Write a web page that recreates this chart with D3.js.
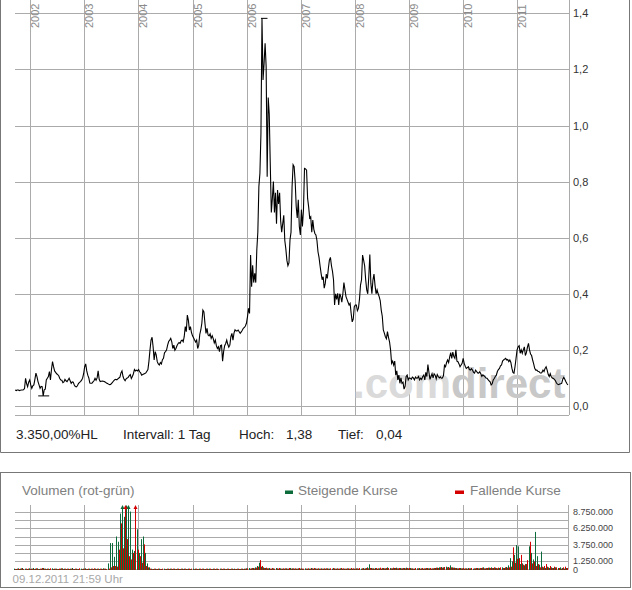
<!DOCTYPE html>
<html><head><meta charset="utf-8">
<script src="https://cdn.jsdelivr.net/npm/d3@7"></script>
<style>
html,body{margin:0;padding:0;background:#fff;}
svg{display:block;font-family:"Liberation Sans",Arial,sans-serif;}
</style></head><body>
<svg id="c" width="632" height="590"></svg>
<script>
// ---------- DATA ----------
const startDate = "2001-09-21";   // first weekly close (Friday)
// weekly closes, one array per calendar year
const close2001 = [0.057,0.055,0.057,0.057,0.055,0.056,0.057,0.057,0.058,0.062,0.099,0.080,0.069,0.085,0.093];
const close2002 = [0.075,0.063,0.072,0.075,0.095,0.117,0.105,0.087,0.075,0.063,0.070,0.069,0.036,0.058,0.060,
 0.093,0.099,0.105,0.123,0.093,0.130,0.158,0.140,0.125,0.120,0.115,0.112,0.108,0.098,0.093,0.092,0.083,0.086,
 0.095,0.090,0.087,0.093,0.099,0.090,0.081,0.086,0.085,0.075,0.069,0.068,0.072,0.080,0.084,0.087,0.092,0.099,0.115];
const close2003 = [0.140,0.150,0.125,0.110,0.100,0.082,0.081,0.081,0.086,0.090,0.099,0.092,0.100,0.125,0.095,
 0.087,0.088,0.089,0.088,0.087,0.085,0.082,0.080,0.078,0.076,0.077,0.081,0.085,0.090,0.094,0.095,0.093,0.097,
 0.100,0.103,0.118,0.125,0.105,0.095,0.090,0.097,0.100,0.102,0.108,0.112,0.098,0.105,0.115,0.130,0.125,0.128,0.125];
const close2004 = [0.130,0.122,0.118,0.110,0.112,0.114,0.116,0.118,0.124,0.130,0.160,0.200,0.235,0.245,0.211,
 0.164,0.194,0.182,0.158,0.150,0.146,0.155,0.150,0.165,0.170,0.190,0.194,0.200,0.217,0.230,0.235,0.241,0.229,
 0.205,0.217,0.199,0.205,0.215,0.222,0.226,0.223,0.232,0.235,0.229,0.247,0.283,0.265,0.324,0.306,0.271,0.283,0.262,0.250];
const close2005 = [0.243,0.235,0.228,0.235,0.205,0.217,0.255,0.271,0.295,0.342,0.335,0.295,0.259,0.277,0.253,
 0.250,0.257,0.241,0.250,0.240,0.225,0.235,0.215,0.205,0.211,0.194,0.215,0.217,0.160,0.194,0.215,0.223,0.235,
 0.220,0.210,0.217,0.247,0.259,0.235,0.260,0.272,0.268,0.268,0.271,0.265,0.259,0.264,0.270,0.277,0.280,0.285,0.295];
const close2006 = [0.318,0.348,0.330,0.538,0.425,0.502,0.440,0.473,0.440,0.556,0.620,0.782,0.830,0.972,1.382,
 1.162,1.220,1.293,1.210,0.817,1.100,1.040,0.860,0.690,0.740,0.800,0.690,0.760,0.650,0.770,0.720,0.760,0.660,
 0.620,0.650,0.680,0.590,0.560,0.520,0.500,0.510,0.592,0.620,0.780,0.860,0.853,0.800,0.711,0.670,0.735,0.640,0.610];
const close2007 = [0.700,0.640,0.700,0.847,0.845,0.841,0.740,0.710,0.670,0.675,0.620,0.663,0.630,0.615,0.610,
 0.590,0.550,0.530,0.500,0.473,0.450,0.461,0.420,0.437,0.470,0.455,0.490,0.520,0.530,0.500,0.480,0.449,0.360,
 0.400,0.380,0.402,0.360,0.400,0.390,0.370,0.400,0.440,0.415,0.390,0.380,0.370,0.360,0.366,0.330,0.300,0.310,0.354];
const close2008 = [0.360,0.360,0.340,0.348,0.380,0.431,0.450,0.538,0.520,0.500,0.450,0.414,0.400,0.461,0.540,
 0.437,0.400,0.449,0.470,0.431,0.400,0.414,0.400,0.390,0.376,0.342,0.320,0.271,0.260,0.247,0.240,0.265,0.245,
 0.229,0.200,0.152,0.160,0.146,0.160,0.110,0.125,0.093,0.110,0.081,0.100,0.081,0.085,0.060,0.070,0.105,0.110,0.093];
const close2009 = [0.100,0.099,0.095,0.103,0.100,0.093,0.103,0.099,0.100,0.105,0.093,0.099,0.095,0.105,0.110,
 0.093,0.120,0.105,0.148,0.120,0.095,0.105,0.115,0.100,0.115,0.110,0.097,0.112,0.105,0.100,0.104,0.099,0.100,
 0.108,0.145,0.140,0.155,0.164,0.155,0.175,0.190,0.170,0.192,0.176,0.170,0.200,0.160,0.158,0.150,0.140,0.146,0.152];
const close2010 = [0.170,0.152,0.142,0.134,0.137,0.140,0.130,0.128,0.133,0.128,0.120,0.117,0.128,0.123,0.118,
 0.117,0.122,0.115,0.106,0.111,0.108,0.105,0.100,0.099,0.094,0.090,0.086,0.075,0.079,0.093,0.098,0.105,0.110,
 0.123,0.130,0.134,0.143,0.146,0.160,0.164,0.167,0.170,0.164,0.166,0.158,0.164,0.155,0.135,0.120,0.117,0.140,0.170,0.200];
const close2011 = [0.211,0.215,0.188,0.200,0.188,0.200,0.211,0.180,0.190,0.210,0.223,0.200,0.185,0.180,0.164,
 0.150,0.134,0.128,0.128,0.124,0.123,0.119,0.117,0.120,0.128,0.123,0.134,0.140,0.128,0.113,0.105,0.115,0.104,
 0.100,0.098,0.095,0.090,0.082,0.078,0.076,0.078,0.079,0.081,0.095,0.102,0.095,0.087,0.080,0.075];

// bi-weekly volume in millions: rising-day and falling-day volume per period
const volumeStepDays = 14;
const volumeUp = [
0.10,0.05,0.15,0.10,0.20,0.10,0.05,0.15,0.10,0.20,
0.10,0.15,0.05,0.10,0.20,0.10,0.10,0.05,0.15,0.10,
0.10,0.05,0.10,0.15,0.10,0.05,0.10,0.10,0.20,0.05,
0.10,0.05,0.10,0.10,0.15,0.05,0.10,0.10,0.05,0.10,
0.10,0.05,0.10,0.15,0.10,0.90,4.00,4.00,1.90,5.00,
4.20,8.50,12.0,8.00,12.0,12.0,8.80,3.00,2.80,6.10,
2.50,4.60,5.00,2.50,0.90,0.30,0.10,0.05,0.10,0.05,
0.10,0.05,0.10,0.05,0.10,0.10,0.05,0.10,0.05,0.10,
0.05,0.10,0.10,0.05,0.10,0.05,0.10,0.10,0.05,0.10,
0.05,0.10,0.05,0.10,0.10,0.05,0.10,0.05,0.10,0.10,
0.05,0.10,0.05,0.10,0.05,0.10,0.10,0.05,0.10,0.05,
0.10,0.10,0.15,0.20,0.15,0.20,0.30,0.50,1.00,0.40,
0.30,0.20,0.15,0.20,0.10,0.15,0.20,0.10,0.15,0.10,
0.10,0.15,0.10,0.20,0.15,0.10,0.10,0.15,0.10,0.10,
0.15,0.10,0.10,0.20,0.10,0.15,0.10,0.10,0.15,0.10,
0.10,0.15,0.10,0.10,0.15,0.10,0.10,0.15,0.10,0.10,
0.10,0.15,0.10,0.10,0.10,0.15,0.10,0.10,0.20,0.15,
0.30,0.76,0.20,0.15,0.20,0.10,0.15,0.10,0.20,0.15,
0.30,0.20,0.15,0.20,0.25,0.15,0.20,0.15,0.20,0.25,
0.15,0.20,0.15,0.10,0.15,0.20,0.15,0.10,0.15,0.20,
0.15,0.10,0.15,0.20,0.25,0.30,0.35,0.30,0.40,0.35,
0.60,0.30,0.25,0.20,0.15,0.20,0.15,0.10,0.15,0.20,
0.15,0.10,0.15,0.20,0.15,0.20,0.30,0.15,0.20,0.25,
0.30,0.20,0.25,0.15,0.20,0.30,0.20,0.35,0.60,1.70,
1.20,2.20,3.70,3.50,0.80,0.90,0.60,0.80,3.50,2.50,
1.50,5.70,2.00,0.70,2.70,0.30,0.20,0.40,0.20,0.30,
0.20,0.30,0.20,0.30,0.20,0.10,0.20
];
const volumeDown = [
0.05,0.10,0.05,0.15,0.05,0.10,0.10,0.05,0.10,0.05,
0.15,0.05,0.10,0.20,0.10,0.05,0.10,0.15,0.05,0.10,
0.05,0.10,0.15,0.05,0.10,0.10,0.05,0.10,0.05,0.10,
0.05,0.15,0.05,0.10,0.05,0.10,0.05,0.10,0.15,0.05,
0.10,0.10,0.05,0.10,0.05,0.10,0.30,0.50,0.50,0.40,
3.00,7.00,3.20,12.0,4.60,2.00,1.50,2.50,12.0,3.00,
2.00,1.00,3.80,0.50,0.30,0.10,0.05,0.10,0.05,0.10,
0.05,0.10,0.05,0.10,0.05,0.10,0.10,0.05,0.10,0.05,
0.10,0.05,0.10,0.05,0.10,0.10,0.05,0.10,0.05,0.10,
0.10,0.05,0.10,0.05,0.10,0.05,0.10,0.10,0.05,0.10,
0.10,0.05,0.10,0.05,0.10,0.05,0.05,0.10,0.05,0.10,
0.05,0.10,0.15,0.10,0.20,0.15,0.25,0.40,1.40,0.50,
0.20,0.25,0.15,0.10,0.20,0.10,0.15,0.20,0.10,0.15,
0.15,0.10,0.20,0.10,0.15,0.15,0.10,0.20,0.15,0.10,
0.10,0.15,0.10,0.15,0.20,0.10,0.15,0.10,0.10,0.15,
0.15,0.10,0.15,0.20,0.10,0.15,0.10,0.20,0.15,0.10,
0.15,0.10,0.20,0.15,0.10,0.15,0.20,0.15,0.10,0.20,
0.15,0.20,0.15,0.10,0.20,0.15,0.25,0.20,0.15,0.20,
0.20,0.15,0.25,0.20,0.15,0.20,0.15,0.20,0.15,0.20,
0.20,0.15,0.10,0.20,0.15,0.10,0.20,0.15,0.20,0.15,
0.20,0.15,0.20,0.25,0.20,0.30,0.25,0.35,0.30,0.25,
0.30,0.25,0.20,0.15,0.20,0.15,0.20,0.15,0.10,0.15,
0.20,0.15,0.20,0.15,0.20,0.25,0.15,0.20,0.25,0.20,
0.20,0.30,0.20,0.25,0.30,0.20,0.30,0.25,0.30,0.40,
3.35,1.00,1.60,1.70,2.20,0.70,0.80,1.40,4.20,0.90,
1.20,0.50,0.80,0.30,0.40,0.50,0.80,0.30,0.50,0.20,
0.40,0.30,0.20,0.10,0.30,0.40,0.20
];
const yearTicks = [2002,2003,2004,2005,2006,2007,2008,2009,2010,2011];
const priceTicks = [0,0.2,0.4,0.6,0.8,1.0,1.2,1.4];
const volumeGrid = [1250000,2500000,3750000,5000000,6250000,7500000,8750000];
const volumeLabels = [0,1250000,3750000,6250000,8750000];
const infoTexts = ["3.350,00%HL","Intervall: 1 Tag","Hoch:","Tief:"];
const legendTexts = ["Volumen (rot-grün)","Steigende Kurse","Fallende Kurse"];
const timestamp = "09.12.2011 21:59 Uhr";

// ---------- SETUP ----------
const de = d3.formatLocale({decimal:",",thousands:".",grouping:[3],currency:["","€"]});
const fPrice = de.format(".1f"), fHL = de.format(".2f"), fVol = de.format(",.0f");
const svg = d3.select("#c");
const GRID = "#ababab", FRAME = "#777", GREEN = "#0b6b3a", RED = "#d40000";

const t0 = d3.timeParse("%Y-%m-%d")(startDate);
const closes = [].concat(close2001,close2002,close2003,close2004,close2005,close2006,
                         close2007,close2008,close2009,close2010,close2011);
const data = closes.map((v,i)=>({date:d3.timeWeek.offset(t0,i), value:v}));
const vdata = volumeUp.map((v,i)=>({date:d3.timeDay.offset(t0,i*volumeStepDays), up:v*1e6, down:volumeDown[i]*1e6}));

const x = d3.scaleTime().domain([new Date(2002,0,1), new Date(2012,0,1)]).range([30.3,571.3]);
const y = d3.scaleLinear().domain([0,1.4]).range([406,13.3]);
const yv = d3.scaleLinear().domain([0,8750000]).range([569.3,511.9]);
const L = 15, R = 569, PB = 415;
const VL = 15, VR = 568.5, VT = 505, VB = 569.3;

// ---------- MAIN PANEL ----------
svg.append("path").attr("d",`M0.5,0 V452.5 H629.5 V0`).attr("fill","none").attr("stroke",FRAME);

const g = svg.append("g");
g.selectAll(".hg").data(priceTicks).join("line")
  .attr("x1",L).attr("x2",R).attr("y1",d=>Math.round(y(d))+0.5).attr("y2",d=>Math.round(y(d))+0.5)
  .attr("stroke",GRID);
g.append("line").attr("x1",L).attr("x2",R).attr("y1",PB+0.5).attr("y2",PB+0.5).attr("stroke",GRID);
g.selectAll(".vg").data(yearTicks).join("line")
  .attr("x1",d=>Math.round(x(new Date(d,0,1)))+0.5).attr("x2",d=>Math.round(x(new Date(d,0,1)))+0.5)
  .attr("y1",0).attr("y2",PB).attr("stroke",GRID);
g.append("line").attr("x1",R+0.5).attr("x2",R+0.5).attr("y1",0).attr("y2",PB).attr("stroke",GRID);

g.selectAll(".yl").data(yearTicks).join("text")
  .attr("transform",d=>`translate(${Math.round(x(new Date(d,0,1)))+8.7},28) rotate(-90)`)
  .attr("font-size",11).attr("fill","#8a8a8a").text(d=>d);

g.selectAll(".pl").data(priceTicks).join("text")
  .attr("x",573).attr("y",d=>y(d)+4).attr("font-size",11).attr("fill","#333").text(d=>fPrice(d));

svg.append("clipPath").attr("id","pc").append("rect").attr("x",L).attr("y",0).attr("width",R-L).attr("height",PB);
const wm = svg.append("text").attr("x",353).attr("y",398).attr("font-size",42).attr("font-weight","bold")
  .attr("clip-path","url(#pc)");
wm.append("tspan").attr("fill","#dadada").text(".com");
wm.append("tspan").attr("fill","#c8c8c8").text("direct");

const line = d3.line().x(d=>x(d.date)).y(d=>y(d.value));
svg.append("path").datum(data).attr("d",line).attr("fill","none").attr("stroke","#000").attr("stroke-width",1.1)
  .attr("clip-path","url(#pc)");

const hi = data.reduce((a,b)=>b.value>a.value?b:a), lo = data.reduce((a,b)=>b.value<a.value?b:a);
svg.append("line").attr("x1",x(hi.date)-1).attr("x2",x(hi.date)+5.5).attr("y1",y(hi.value)).attr("y2",y(hi.value)).attr("stroke","#000");
svg.append("line").attr("x1",x(lo.date)-5).attr("x2",x(lo.date)+6).attr("y1",y(lo.value)).attr("y2",y(lo.value)).attr("stroke","#000");

const info = svg.append("g").attr("font-size",13.5).attr("fill","#222");
info.append("text").attr("x",16).attr("y",439).text(infoTexts[0]);
info.append("text").attr("x",123).attr("y",439).text(infoTexts[1]);
info.append("text").attr("x",239).attr("y",439).text(infoTexts[2]);
info.append("text").attr("x",286).attr("y",439).text(fHL(hi.value));
info.append("text").attr("x",338).attr("y",439).text(infoTexts[3]);
info.append("text").attr("x",376).attr("y",439).text(fHL(lo.value));

// ---------- VOLUME PANEL ----------
svg.append("rect").attr("x",0.5).attr("y",472.5).attr("width",630).attr("height",115)
  .attr("fill","none").attr("stroke",FRAME);
const vg = svg.append("g");
vg.selectAll(".vh").data(volumeGrid).join("line")
  .attr("x1",VL).attr("x2",VR).attr("y1",d=>Math.round(yv(d))+0.5).attr("y2",d=>Math.round(yv(d))+0.5).attr("stroke",GRID);
vg.append("line").attr("x1",VL).attr("x2",VR).attr("y1",Math.round(VB)+0.5).attr("y2",Math.round(VB)+0.5).attr("stroke",GRID);
vg.selectAll(".vv").data(yearTicks).join("line")
  .attr("x1",d=>Math.round(x(new Date(d,0,1)))+0.5).attr("x2",d=>Math.round(x(new Date(d,0,1)))+0.5)
  .attr("y1",VT).attr("y2",VB).attr("stroke",GRID);
vg.append("line").attr("x1",VR).attr("x2",VR).attr("y1",VT).attr("y2",VB).attr("stroke",GRID);
vg.selectAll(".vlab").data(volumeLabels).join("text")
  .attr("x",573).attr("y",d=>yv(d)+(d===0?3.6:3.0)).attr("font-size",9).attr("fill","#444").text(d=>fVol(d));

const vmax = yv.invert(VT);
function bars(key,color,dx){
  const gg = svg.append("g").attr("fill",color);
  vdata.forEach(d=>{
    const v = d[key]; const bx = Math.round(x(d.date))+dx;
    const top = v>vmax ? VT+3 : yv(v);
    gg.append("rect").attr("x",bx).attr("y",top).attr("width",1).attr("height",Math.max(0,Math.round(VB)+1-top));
    if(v>vmax){
      gg.append("path").attr("d",`M${bx-1.5},${VT+4} L${bx+0.5},${VT} L${bx+2.5},${VT+4} Z`);
    }
  });
}
bars("up",GREEN,-1);
bars("down",RED,0);

const lg = svg.append("g").attr("font-size",13.5).attr("fill","#808080");
lg.append("text").attr("x",22).attr("y",495).text(legendTexts[0]);
lg.append("rect").attr("x",285).attr("y",490.5).attr("width",8).attr("height",3.5).attr("fill",GREEN);
lg.append("text").attr("x",298).attr("y",495).text(legendTexts[1]);
lg.append("rect").attr("x",455).attr("y",490.5).attr("width",9).attr("height",3.5).attr("fill",RED);
lg.append("text").attr("x",470).attr("y",495).text(legendTexts[2]);

svg.append("text").attr("x",12.5).attr("y",583).attr("font-size",11.5).attr("fill","#a8a8a8").text(timestamp);
</script>
</body></html>
